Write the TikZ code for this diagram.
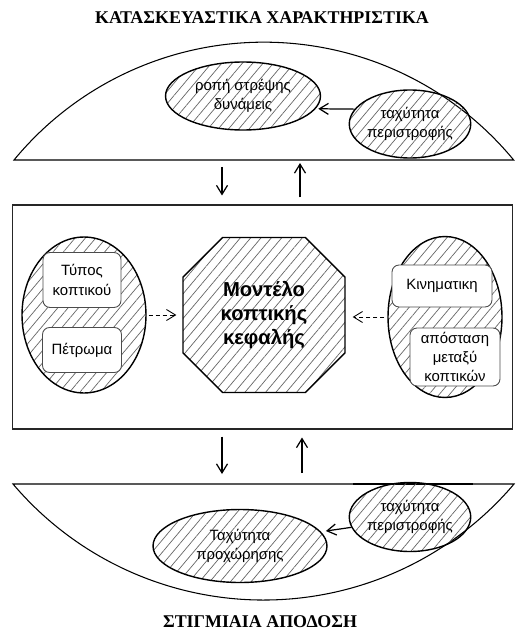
\documentclass[tikz,border=0pt]{standalone}
\usepackage{fontspec}
\setmainfont{Liberation Sans}
\newfontfamily\titlefont{Liberation Serif}
\usetikzlibrary{arrows.meta, patterns.meta, shapes.geometric, shapes.misc}

\begin{document}
\begin{tikzpicture}[
    x=0.02cm, y=-0.02cm,
    lens/.style={line width=0.6pt},
    hatched/.style={draw, line width=0.8pt, pattern={Lines[angle=50, distance=4.5pt, line width=0.4pt]}, pattern color=black!60},
    oval/.style={hatched, ellipse, inner sep=0pt, align=center, font=\fontsize{8.5}{10.5}\selectfont},
    group/.style={hatched, ellipse, inner sep=0pt},
    tag/.style={draw=black!70, line width=0.5pt, fill=white, rounded corners=4pt, inner sep=1pt, align=center, font=\fontsize{8.5}{11}\selectfont},
    core/.style={hatched, chamfered rectangle, chamfered rectangle xsep=0.74cm, inner sep=0pt, align=center, font=\fontsize{11.5}{13.5}\selectfont\bfseries},
    panel/.style={draw=black!85, line width=0.6pt, minimum width=10.02cm, minimum height=4.48cm},
    heading/.style={font=\titlefont\bfseries\fontsize{10.2}{12}\selectfont},
    arrow/.style={-{Straight Barb[length=1.8mm, width=2.2mm]}, line width=0.7pt},
    darrow/.style={arrow, dash pattern=on 2.5pt off 1.5pt, line width=0.5pt}
]
    \useasboundingbox (0,0) rectangle (515,635);

    % === Design features (top) ===
    \node[heading] (toptitle) at (262,18) {ΚΑΤΑΣΚΕΥΑΣΤΙΚΑ ΧΑΡΑΚΤΗΡΙΣΤΙΚΑ};
    \draw[lens] (14,160) arc[start angle=219.5, end angle=320.5, radius=323.8] -- cycle;

    \node[oval, minimum width=3.1cm, minimum height=1.36cm] (torque) at (243,96) {ροπή στρέψης\\δυνάμεις};
    \node[oval, minimum width=2.1cm, minimum height=1.36cm] (rotA) at (410,124) {ταχύτητα\\περιστροφής};
    \draw[arrow, shorten >=0.06cm] (rotA.165) -- (torque.-10);

    \coordinate (inA) at (222,160);
    \coordinate (outA) at (300,160);

    % === Cutting head model (middle) ===
    \node[panel] (panel) at (262.5,317) {};
    \draw[arrow, shorten <=0.14cm, shorten >=0.18cm] (inA) -- (inA |- panel.north);
    \draw[arrow, shorten <=0.14cm, shorten >=0.06cm] (outA |- panel.north) -- (outA);

    \node[group, minimum width=2.48cm, minimum height=3.12cm] (tools) at (84,315) {};
    \node[tag, minimum width=1.56cm, minimum height=1.1cm] (tooltype) at (82,280) {Τύπος\\κοπτικού};
    \node[tag, minimum width=1.58cm, minimum height=0.9cm] (rock) at (82,350) {Πέτρωμα};

    \node[core, minimum width=3.24cm, minimum height=3.1cm] (model) at (264,315) {Μοντέλο\\κοπτικής\\κεφαλής};

    \node[group, minimum width=2.28cm, minimum height=3.22cm] (motion) at (445,317) {};
    \node[tag, minimum width=2.0cm, minimum height=0.84cm] (kinem) at (442,286) {Κινηματικη};
    \node[tag, minimum width=1.8cm, minimum height=1.16cm] (spacing) at (455,357) {απόσταση\\μεταξύ\\κοπτικών};

    \draw[darrow, shorten <=0.04cm, shorten >=0.12cm] (tools.east) -- (tools.east -| model.west);
    \draw[darrow, shorten <=0.06cm, shorten >=0.14cm] (motion.west) -- (motion.west -| model.east);

    % === Instant performance (bottom) ===
    \coordinate (inB) at (222,484);
    \coordinate (outB) at (302,484);
    \draw[arrow, shorten <=0.14cm, shorten >=0.2cm] (inB |- panel.south) -- (inB);
    \draw[arrow, shorten <=0.22cm, shorten >=0.16cm] (outB) -- (outB |- panel.south);

    \draw[lens] (13,484) arc[start angle=139.7, end angle=40.3, radius=328.5] -- cycle;
    \draw[line width=1.4pt] (353,484) -- (473,484);

    \node[oval, minimum width=3.48cm, minimum height=1.46cm] (advance) at (240,546) {Ταχύτητα\\προχώρησης};
    \node[oval, minimum width=2.1cm, minimum height=1.38cm] (rotB) at (410,517) {ταχύτητα\\περιστροφής};
    \draw[arrow, shorten >=0.1cm] (rotB.190) -- (advance.10);

    \node[heading] (bottitle) at (260,622) {ΣΤΙΓΜΙΑΙΑ ΑΠΟΔΟΣΗ};
\end{tikzpicture}
\end{document}
